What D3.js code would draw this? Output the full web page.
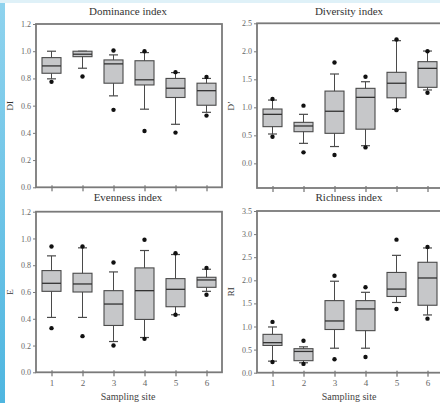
<!DOCTYPE html>
<html>
<head>
<meta charset="utf-8">
<script src="https://cdn.jsdelivr.net/npm/d3@7"></script>
<style>
  body { margin: 0; background: #fff; }
  svg { display: block; font-family: "Liberation Serif", "DejaVu Serif", serif; }
</style>
</head>
<body>
<div id="container"></div>
<script>
// Sampling sites on the x axis
const sites = ["1", "2", "3", "4", "5", "6"];

// Box rows: [whisker low, q1, median, q3, whisker high] for each site
const dominanceBoxes = [
  [0.797, 0.838, 0.892, 0.953, 1.0],
  [0.875, 0.96, 0.978, 1.0, 1.0],
  [0.672, 0.765, 0.907, 0.936, 0.973],
  [0.574, 0.752, 0.79, 0.93, 0.99],
  [0.463, 0.66, 0.728, 0.80, 0.843],
  [0.551, 0.603, 0.71, 0.765, 0.80]
];
const dominanceDots = [[0.775], [0.814], [1.005, 0.569], [1.0, 0.414], [0.846, 0.402], [0.81, 0.527]];

const diversityBoxes = [
  [0.524, 0.655, 0.875, 0.97, 1.13],
  [0.357, 0.565, 0.667, 0.732, 0.875],
  [0.30, 0.536, 0.93, 1.29, 1.595],
  [0.315, 0.61, 1.178, 1.339, 1.457],
  [0.964, 1.17, 1.43, 1.625, 2.19],
  [1.31, 1.357, 1.696, 1.815, 2.005]
];
const diversityDots = [[1.15, 0.475], [1.03, 0.196], [1.80, 0.148], [1.546, 0.285], [2.21, 0.95], [2.0, 1.26]];

const evennessBoxes = [
  [0.41, 0.605, 0.665, 0.76, 0.87],
  [0.41, 0.60, 0.66, 0.74, 0.93],
  [0.23, 0.35, 0.51, 0.61, 0.75],
  [0.26, 0.395, 0.61, 0.78, 0.91],
  [0.43, 0.49, 0.62, 0.70, 0.88],
  [0.605, 0.635, 0.69, 0.71, 0.77]
];
const evennessDots = [[0.94, 0.33], [0.94, 0.27], [0.82, 0.20], [0.99, 0.25], [0.89, 0.43], [0.78, 0.58]];

const richnessBoxes = [
  [0.25, 0.59, 0.65, 0.83, 0.99],
  [0.215, 0.26, 0.46, 0.52, 0.56],
  [0.53, 0.935, 1.12, 1.56, 1.98],
  [0.53, 0.91, 1.38, 1.56, 1.74],
  [1.52, 1.65, 1.81, 2.17, 2.54],
  [1.25, 1.46, 2.05, 2.39, 2.70]
];
const richnessDots = [[1.10, 0.23], [0.69, 0.19], [2.10, 0.29], [1.85, 0.34], [2.88, 1.38], [2.72, 1.17]];

// Tick values for each panel
const dominanceTicks = [0, 0.2, 0.4, 0.6, 0.8, 1.0, 1.2];
const diversityTicks = [0, 0.5, 1.0, 1.5, 2.0, 2.5];
const evennessTicks = [0, 0.2, 0.4, 0.6, 0.8, 1.0, 1.2];
const richnessTicks = [0, 0.5, 1.0, 1.5, 2.0, 2.5, 3.0, 3.5];

const width = 440;
const height = 403;

const svg = d3.select("#container")
  .append("svg")
  .attr("width", width)
  .attr("height", height);

// light blue page edge on the left and top
const grad = svg.append("defs").append("linearGradient")
  .attr("id", "edge").attr("x1", 0).attr("x2", 0).attr("y1", 0).attr("y2", 1);
grad.append("stop").attr("offset", "0%").attr("stop-color", "#8fd3ee");
grad.append("stop").attr("offset", "100%").attr("stop-color", "#4fb6e0");
svg.append("rect").attr("x", 0).attr("y", 0).attr("width", 5).attr("height", height).attr("fill", "url(#edge)");
svg.append("rect").attr("x", 0).attr("y", 0).attr("width", width).attr("height", 3).attr("fill", "#dff1f8");

const panels = [
  { title: "Dominance index", ylab: "DI", boxes: dominanceBoxes, dots: dominanceDots, ticks: dominanceTicks,
    domain: [0, 1.2], left: 36, right: 222, top: 24, bottom: 187.3, xlabel: false, titleY: 15, ylabX: 13 },
  { title: "Diversity index", ylab: "D\u2019", boxes: diversityBoxes, dots: diversityDots, ticks: diversityTicks,
    domain: [-0.44, 2.5], left: 257, right: 443, top: 23.3, bottom: 188, xlabel: false, titleY: 15, ylabX: 234 },
  { title: "Evenness index", ylab: "E", boxes: evennessBoxes, dots: evennessDots, ticks: evennessTicks,
    domain: [0, 1.2], left: 36, right: 222, top: 211.7, bottom: 372.3, xlabel: true, titleY: 201, ylabX: 13 },
  { title: "Richness index", ylab: "RI", boxes: richnessBoxes, dots: richnessDots, ticks: richnessTicks,
    domain: [0, 3.5], left: 257, right: 443, top: 211, bottom: 372.7, xlabel: true, titleY: 201, ylabX: 234 }
];

const frameColor = "#7a7a7a";
const boxStroke = "#4a4a4a";

panels.forEach(p => {
  const x = d3.scalePoint()
    .domain(sites)
    .range([p.left, p.right])
    .padding(0.5);

  const y = d3.scaleLinear()
    .domain(p.domain)
    .range([p.bottom, p.top]);

  const g = svg.append("g");

  // title
  g.append("text")
    .attr("x", (p.left + p.right) / 2 - 1)
    .attr("y", p.titleY)
    .attr("text-anchor", "middle")
    .attr("font-size", 11)
    .attr("fill", "#333")
    .text(p.title);

  // y label
  g.append("text")
    .attr("transform", `translate(${p.ylabX},${(p.top + p.bottom) / 2}) rotate(-90)`)
    .attr("text-anchor", "middle")
    .attr("font-size", 9)
    .attr("fill", "#333")
    .text(p.ylab);

  // y axis
  const yAxis = g.append("g")
    .attr("transform", `translate(${p.left},0)`)
    .call(d3.axisLeft(y).tickValues(p.ticks).tickFormat(d3.format(".1f")).tickSize(3).tickPadding(2));
  yAxis.select(".domain").remove();
  yAxis.selectAll(".tick line").attr("stroke", frameColor);
  yAxis.selectAll("text").attr("font-family", "Liberation Serif, serif").attr("font-size", 8).attr("fill", "#666");

  // x axis
  const xAxis = g.append("g")
    .attr("transform", `translate(0,${p.bottom})`)
    .call(d3.axisBottom(x).tickSize(4).tickPadding(3));
  xAxis.select(".domain").remove();
  xAxis.selectAll(".tick line").attr("y1", -2).attr("stroke", "#555");
  if (p.xlabel) {
    xAxis.selectAll("text").attr("font-family", "Liberation Serif, serif").attr("font-size", 9).attr("fill", "#666");
    g.append("text")
      .attr("x", (p.left + p.right) / 2 - 1)
      .attr("y", 400)
      .attr("text-anchor", "middle")
      .attr("font-size", 10)
      .attr("fill", "#444")
      .text("Sampling site");
  } else {
    xAxis.selectAll("text").remove();
  }

  // frame
  g.append("rect")
    .attr("x", p.left)
    .attr("y", p.top)
    .attr("width", p.right - p.left)
    .attr("height", p.bottom - p.top)
    .attr("fill", "none")
    .attr("stroke", frameColor)
    .attr("stroke-width", 1.8);

  const boxW = 19;
  const capW = 9;

  const site = g.selectAll(".site")
    .data(p.boxes)
    .join("g")
    .attr("class", "site");

  // whiskers
  site.append("line")
    .attr("x1", (d, i) => x(sites[i])).attr("x2", (d, i) => x(sites[i]))
    .attr("y1", d => y(d[0])).attr("y2", d => y(d[4]))
    .attr("stroke", boxStroke).attr("stroke-width", 1);
  site.each(function(d, i) {
    d3.select(this).selectAll(".cap")
      .data([d[0], d[4]])
      .join("line")
      .attr("class", "cap")
      .attr("x1", x(sites[i]) - capW / 2)
      .attr("x2", x(sites[i]) + capW / 2)
      .attr("y1", v => y(v)).attr("y2", v => y(v))
      .attr("stroke", boxStroke).attr("stroke-width", 1.2);
  });

  // boxes
  site.append("rect")
    .attr("x", (d, i) => x(sites[i]) - boxW / 2)
    .attr("y", d => y(d[3]))
    .attr("width", boxW)
    .attr("height", d => Math.max(1, y(d[1]) - y(d[3])))
    .attr("fill", "#c6c7c9")
    .attr("stroke", boxStroke)
    .attr("stroke-width", 1.1);

  // medians
  site.append("line")
    .attr("x1", (d, i) => x(sites[i]) - boxW / 2).attr("x2", (d, i) => x(sites[i]) + boxW / 2)
    .attr("y1", d => y(d[2])).attr("y2", d => y(d[2]))
    .attr("stroke", "#333").attr("stroke-width", 1.3);

  // outlying points
  p.dots.forEach((vals, i) => {
    g.selectAll(null)
      .data(vals)
      .join("circle")
      .attr("cx", x(sites[i]))
      .attr("cy", d => y(d))
      .attr("r", 2.2)
      .attr("fill", "#111");
  });
});
</script>
</body>
</html>
